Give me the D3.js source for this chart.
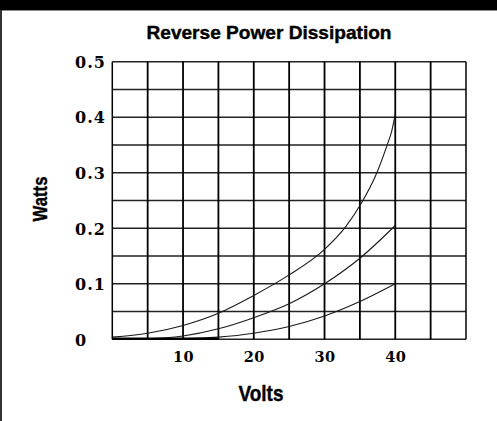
<!DOCTYPE html>
<html><head><meta charset="utf-8">
<script src="https://cdn.jsdelivr.net/npm/d3@7/dist/d3.min.js"></script>
<style>
html,body{margin:0;padding:0;background:#fff;}
svg{display:block;}
</style></head>
<body>
<script>
const title = "Reverse Power Dissipation";
const xLabel = "Volts";
const yLabel = "Watts";
const xTickValues = [10, 20, 30, 40];
const yTickValues = [0, 0.1, 0.2, 0.3, 0.4, 0.5];
const yTickLabels = ["0", "0.1", "0.2", "0.3", "0.4", "0.5"];
const xGrid = [0,5,10,15,20,25,30,35,40,45,50];
const yGrid = [0,0.05,0.1,0.15,0.2,0.25,0.3,0.35,0.4,0.45,0.5];

const upperV = [0,5,10,15,20,25,30,33,35.2,37.4,38.8,39.5,40];
const upperW = [0.004,0.011,0.025,0.047,0.079,0.116,0.162,0.203,0.245,0.30,0.348,0.375,0.405];
const middleV = [0,5,10,15,20,25,30,35,40];
const middleW = [0,0.001,0.006,0.019,0.039,0.064,0.1,0.146,0.205];
const lowerV = [0,10,15,20,25,30,35,40];
const lowerW = [0,0.001,0.004,0.011,0.023,0.042,0.068,0.1];

(function(){
const W = 497, H = 421;
const svg = d3.select("body").append("svg").attr("width", W).attr("height", H);

// frame
svg.append("rect").attr("x",0).attr("y",0).attr("width",W).attr("height",10).attr("fill","#000");
svg.append("line").attr("x1",0).attr("x2",W).attr("y1",10.5).attr("y2",10.5).attr("stroke","#888").attr("stroke-width",1);
svg.append("line").attr("x1",1).attr("x2",1).attr("y1",10).attr("y2",H).attr("stroke","#333").attr("stroke-width",2);

const pL = 112.3, pR = 466, pT = 61.7, pB = 339.3;
const x = d3.scaleLinear().domain([0,50]).range([pL,pR]);
const y = d3.scaleLinear().domain([0,0.5]).range([pB,pT]);

const sans = "'Liberation Sans',Arial,sans-serif";
const serif = "'DejaVu Serif','Liberation Serif',serif";

// title
svg.append("text").attr("x", 269).attr("y", 38.5)
  .attr("text-anchor","middle")
  .attr("font-family", sans).attr("font-weight","bold").attr("font-size",18.5)
  .attr("textLength",245).attr("lengthAdjust","spacingAndGlyphs")
  .attr("stroke","#000").attr("stroke-width",0.4)
  .attr("fill","#000").text(title);

// grid
const g = svg.append("g");
g.selectAll("line.h").data(yGrid).join("line").attr("class","h")
  .attr("x1",pL).attr("x2",pR)
  .attr("y1",d=>y(d)).attr("y2",d=>y(d))
  .attr("stroke","#222").attr("stroke-width",1.5);
g.selectAll("line.v").data(xGrid).join("line").attr("class","v")
  .attr("x1",d=>x(d)).attr("x2",d=>x(d))
  .attr("y1",pT).attr("y2",pB)
  .attr("stroke","#000").attr("stroke-width",d => (d===0||d===50)?1.5:1.8);

// curves
const line = d3.line().x(d=>x(d[0])).y(d=>y(d[1])).curve(d3.curveMonotoneX);
[[upperV,upperW],[middleV,middleW],[lowerV,lowerW]].forEach(([vs,ws])=>{
  svg.append("path").datum(vs.map((v,i)=>[v,ws[i]]))
    .attr("d",line).attr("fill","none").attr("stroke","#1a1a1a").attr("stroke-width",1.1);
});
// thick baseline near origin where curves merge
svg.append("line").attr("x1",x(0)).attr("x2",x(15)).attr("y1",pB-0.5).attr("y2",pB-0.5)
  .attr("stroke","#000").attr("stroke-width",2.5);

// x axis labels
const xAxis = d3.axisBottom(x).tickValues(xTickValues).tickSize(0).tickPadding(0).tickFormat(d3.format("d"));
const xa = svg.append("g").attr("transform",`translate(0,${pB})`).call(xAxis);
xa.select(".domain").remove();
xa.selectAll("text").attr("font-family",serif).attr("font-weight","bold").attr("font-size",14.5)
  .attr("letter-spacing",0.5)
  .attr("fill","#000").attr("dy",null).attr("y",22.3);

// y axis labels (left aligned)
const yAxis = d3.axisLeft(y).tickValues(yTickValues).tickSize(0).tickPadding(0)
  .tickFormat((d,i)=>yTickLabels[i]);
const ya = svg.append("g").attr("transform","translate(75,0)").call(yAxis);
ya.select(".domain").remove();
ya.selectAll("text").attr("font-family",serif).attr("font-weight","bold").attr("font-size",16)
  .attr("letter-spacing",1)
  .attr("fill","#000").attr("text-anchor","start").attr("x",0).attr("dy","0.36em");

// axis titles
svg.append("text").attr("x",261).attr("y",400.5)
  .attr("text-anchor","middle").attr("font-family",sans).attr("font-weight","bold")
  .attr("font-size",22).attr("textLength",45).attr("lengthAdjust","spacingAndGlyphs")
  .attr("stroke","#000").attr("stroke-width",0.4)
  .attr("fill","#000").text(xLabel);
svg.append("text").attr("transform","translate(46.5,199) rotate(-90)")
  .attr("text-anchor","middle").attr("font-family",sans).attr("font-weight","bold")
  .attr("font-size",19.5).attr("textLength",45).attr("lengthAdjust","spacingAndGlyphs")
  .attr("stroke","#000").attr("stroke-width",0.4)
  .attr("fill","#000").text(yLabel);
})();
</script>
</body></html>
